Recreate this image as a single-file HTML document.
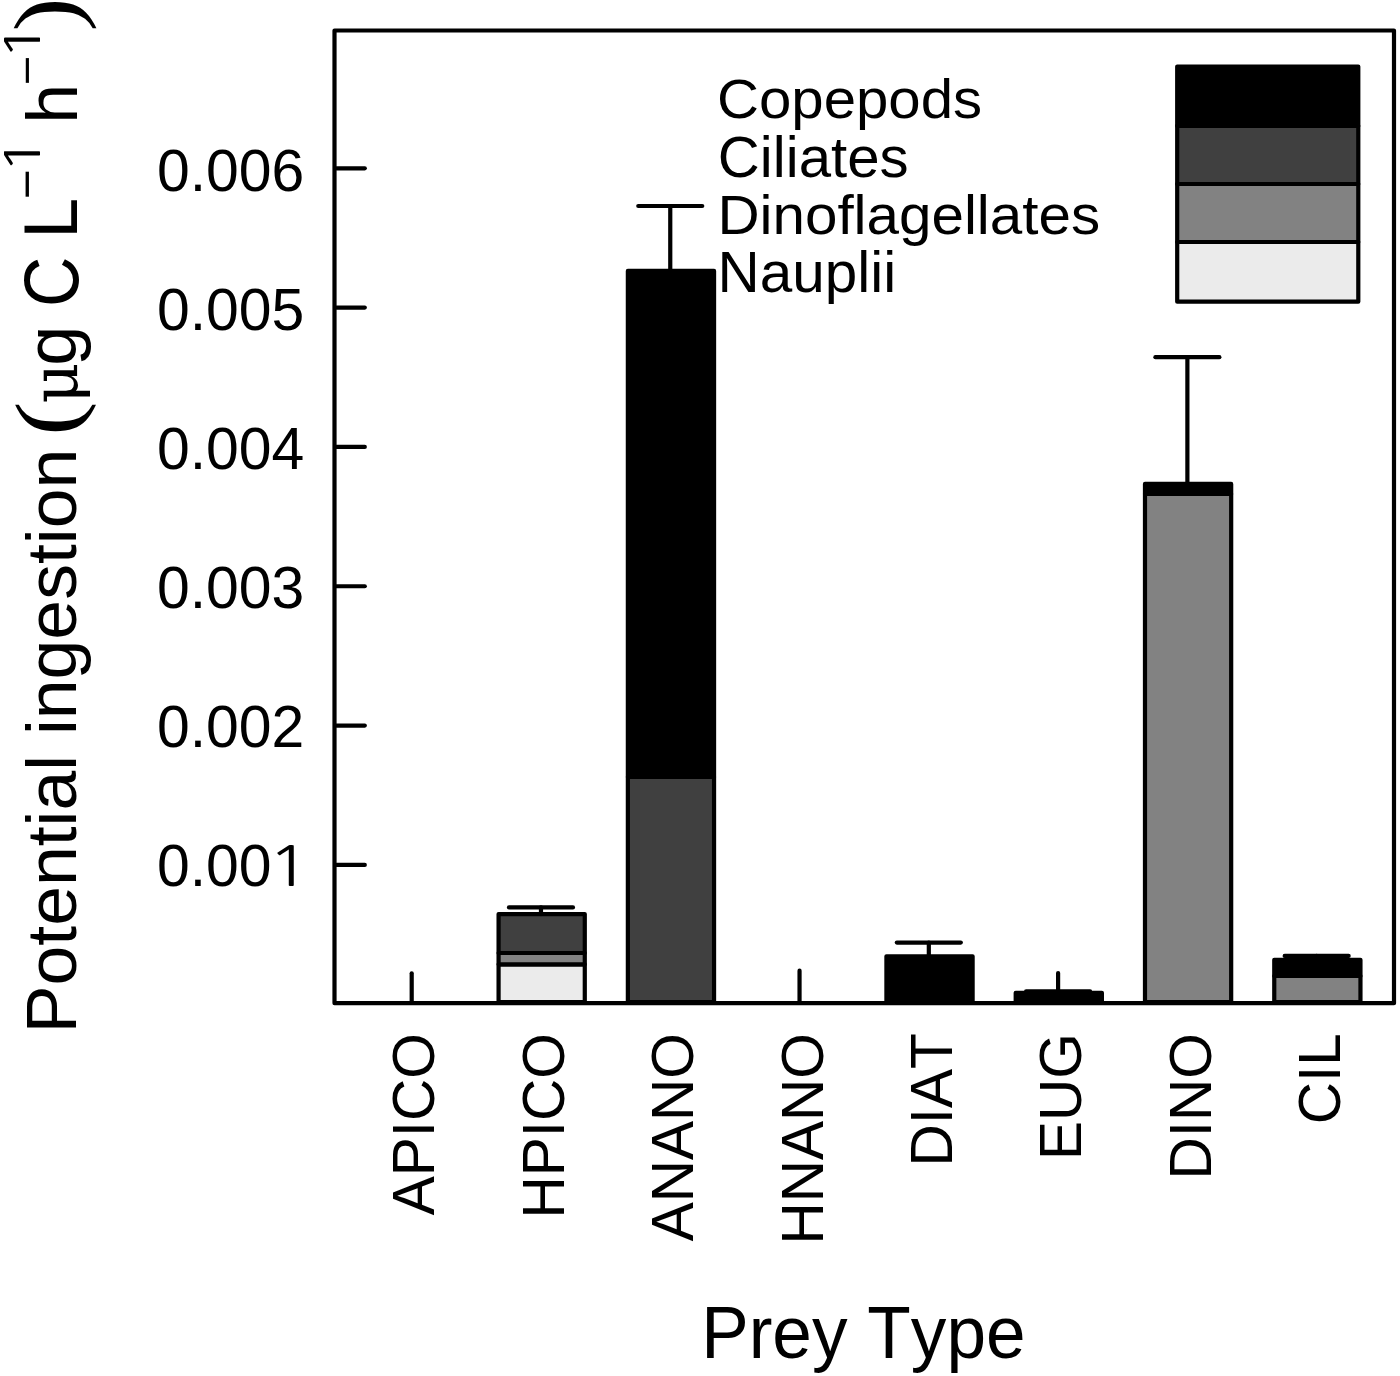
<!DOCTYPE html>
<html><head><meta charset="utf-8"><title>Potential ingestion by prey type</title>
<style>html,body{margin:0;padding:0;background:#fff}svg{display:block}</style></head>
<body>
<svg width="1400" height="1376" viewBox="0 0 1400 1376">
<rect x="0" y="0" width="1400" height="1376" fill="#fff"/>
<g stroke="#000" stroke-width="4.2" stroke-linejoin="round" stroke-linecap="round" fill="none">
<line x1="411.70" y1="1001.2" x2="411.70" y2="973.3"/>
<line x1="540.98" y1="1001.2" x2="540.98" y2="972"/>
<line x1="670.26" y1="1001.2" x2="670.26" y2="972"/>
<line x1="799.54" y1="1001.2" x2="799.54" y2="970.7"/>
<line x1="928.82" y1="1001.2" x2="928.82" y2="972"/>
<line x1="1058.10" y1="1001.2" x2="1058.10" y2="973.0"/>
<line x1="1187.38" y1="1001.2" x2="1187.38" y2="972"/>
<line x1="1316.66" y1="1001.2" x2="1316.66" y2="972"/>
<line x1="336.5" y1="864.90" x2="364.8" y2="864.90"/>
<line x1="336.5" y1="725.58" x2="364.8" y2="725.58"/>
<line x1="336.5" y1="586.26" x2="364.8" y2="586.26"/>
<line x1="336.5" y1="446.94" x2="364.8" y2="446.94"/>
<line x1="336.5" y1="307.62" x2="364.8" y2="307.62"/>
<line x1="336.5" y1="168.30" x2="364.8" y2="168.30"/>
<rect x="498.58" y="964.30" width="86.20" height="37.90" fill="#ebebeb"/>
<rect x="498.58" y="953.00" width="86.20" height="11.30" fill="#828282"/>
<rect x="498.58" y="914.10" width="86.20" height="38.90" fill="#404040"/>
<rect x="627.86" y="777.00" width="86.20" height="225.20" fill="#404040"/>
<rect x="627.86" y="270.90" width="86.20" height="506.10" fill="#000"/>
<rect x="886.42" y="956.30" width="86.20" height="45.90" fill="#000"/>
<rect x="1015.70" y="992.80" width="86.20" height="9.40" fill="#000"/>
<rect x="1144.98" y="494.00" width="86.20" height="508.20" fill="#828282"/>
<rect x="1144.98" y="483.90" width="86.20" height="10.10" fill="#000"/>
<rect x="1274.26" y="976.00" width="86.20" height="26.20" fill="#828282"/>
<rect x="1274.26" y="959.80" width="86.20" height="16.20" fill="#000"/>
<line x1="540.98" y1="914.10" x2="540.98" y2="907.40"/>
<line x1="508.98" y1="907.40" x2="572.98" y2="907.40"/>
<line x1="670.26" y1="270.90" x2="670.26" y2="206.00"/>
<line x1="638.26" y1="206.00" x2="702.26" y2="206.00"/>
<line x1="928.82" y1="956.30" x2="928.82" y2="942.60"/>
<line x1="896.82" y1="942.60" x2="960.82" y2="942.60"/>
<line x1="1058.10" y1="992.80" x2="1058.10" y2="991.40"/>
<line x1="1026.10" y1="991.40" x2="1090.10" y2="991.40"/>
<line x1="1187.38" y1="483.90" x2="1187.38" y2="357.20"/>
<line x1="1155.38" y1="357.20" x2="1219.38" y2="357.20"/>
<line x1="1316.66" y1="959.80" x2="1316.66" y2="955.90"/>
<line x1="1284.66" y1="955.90" x2="1348.66" y2="955.90"/>
<rect x="334.5" y="30.5" width="1059.5" height="972.7"/>
<rect x="1177.2" y="66.5" width="181.10" height="59.40" fill="#000"/>
<rect x="1177.2" y="125.9" width="181.10" height="58.10" fill="#404040"/>
<rect x="1177.2" y="184.0" width="181.10" height="58.00" fill="#828282"/>
<rect x="1177.2" y="242.0" width="181.10" height="59.70" fill="#ebebeb"/>
</g>
<g fill="#000" style="font-kerning:none" font-family="'Liberation Sans', Arial, Helvetica, sans-serif">
<text transform="translate(156.94,886.18) scale(1.0245,1.0346)" font-size="57.5">0.00<tspan font-family="NanumGothic, IPAGothic, 'Liberation Sans', sans-serif" font-size="53.86" textLength="42.93" lengthAdjust="spacingAndGlyphs" dx="-4.44" dy="-0.30">1</tspan></text>
<text transform="translate(156.94,747.15) scale(1.0245,1.0346)" font-size="57.5">0.002</text>
<text transform="translate(156.94,608.12) scale(1.0245,1.0346)" font-size="57.5">0.003</text>
<text transform="translate(156.94,469.09) scale(1.0245,1.0346)" font-size="57.5">0.004</text>
<text transform="translate(156.94,330.06) scale(1.0245,1.0346)" font-size="57.5">0.005</text>
<text transform="translate(156.94,191.03) scale(1.0245,1.0346)" font-size="57.5">0.006</text>
<text transform="translate(716.96,117.80) scale(1.0117,0.9664)" font-family="'Liberation Sans', Arial, Helvetica, sans-serif" font-size="57.5" >Copepods</text>
<text transform="translate(717.86,176.61) scale(1.0120,0.9857)" font-family="'Liberation Sans', Arial, Helvetica, sans-serif" font-size="57.5" >Ciliates</text>
<text transform="translate(717.43,233.57) scale(1.0148,0.9607)" font-family="'Liberation Sans', Arial, Helvetica, sans-serif" font-size="57.5" >Dinoflagellates</text>
<text transform="translate(717.42,292.43) scale(1.0167,0.9888)" font-family="'Liberation Sans', Arial, Helvetica, sans-serif" font-size="57.5" >Nauplii</text>
<text transform="translate(434.20,1033.24) rotate(-90) scale(1.018,1.04)" font-size="57.5" text-anchor="end">APICO</text>
<text transform="translate(563.65,1033.24) rotate(-90) scale(1.018,1.04)" font-size="57.5" text-anchor="end">HPICO</text>
<text transform="translate(693.10,1033.24) rotate(-90) scale(1.018,1.04)" font-size="57.5" text-anchor="end">ANANO</text>
<text transform="translate(822.55,1033.24) rotate(-90) scale(1.018,1.04)" font-size="57.5" text-anchor="end">HNANO</text>
<text transform="translate(952.00,1033.24) rotate(-90) scale(1.018,1.04)" font-size="57.5" text-anchor="end">DIAT</text>
<text transform="translate(1081.45,1033.24) rotate(-90) scale(1.018,1.04)" font-size="57.5" text-anchor="end">EUG</text>
<text transform="translate(1210.90,1033.24) rotate(-90) scale(1.018,1.04)" font-size="57.5" text-anchor="end">DINO</text>
<text transform="translate(1340.35,1033.24) rotate(-90) scale(1.018,1.04)" font-size="57.5" text-anchor="end">CIL</text>
<text transform="translate(701.17,1357.9) scale(0.9890,1.03)" font-size="72">Prey Type</text>
<text transform="translate(75.78,1033.18) rotate(-90) scale(0.9974,0.9881)" font-family="'Liberation Sans', Arial, Helvetica, sans-serif" font-size="71.7" style="font-kerning:none">Potential ingestion</text>
<text transform="translate(76.62,435.83) rotate(-90) scale(1.0816,0.9442)" font-family="'Liberation Serif', 'Times New Roman', serif" font-size="95" >(</text>
<text transform="translate(77.07,403.81) rotate(-90) scale(1.0027,1.0176)" font-family="'DejaVu Serif', 'Liberation Serif', serif" font-size="63" >μ</text>
<text transform="translate(75.64,365.72) rotate(-90) scale(1.0062,1.0038)" font-family="'Liberation Sans', Arial, Helvetica, sans-serif" font-size="71.7" >g</text>
<text transform="translate(77.55,306.90) rotate(-90) scale(0.9714,1.0931)" font-family="'Liberation Sans', Arial, Helvetica, sans-serif" font-size="71.7" >C</text>
<text transform="translate(76.50,238.77) rotate(-90) scale(1.0286,1.0673)" font-family="'Liberation Sans', Arial, Helvetica, sans-serif" font-size="71.7" >L</text>
<text transform="translate(42.94,199.06) rotate(-90) scale(1.0245,0.9429)" font-family="'Liberation Sans', Arial, Helvetica, sans-serif" font-size="50.2" >−</text>
<text transform="translate(40.30,174.27) rotate(-90) scale(1.2522,0.9760)" font-family="NanumGothic, IPAGothic, 'Liberation Sans', sans-serif" font-size="50" >1</text>
<text transform="translate(77.01,123.80) rotate(-90) scale(1.0000,1.0117)" font-family="'Liberation Sans', Arial, Helvetica, sans-serif" font-size="71.7" >h</text>
<text transform="translate(42.09,85.24) rotate(-90) scale(1.0163,0.8857)" font-family="'Liberation Sans', Arial, Helvetica, sans-serif" font-size="50.2" >−</text>
<text transform="translate(40.20,60.63) rotate(-90) scale(1.2609,0.9760)" font-family="NanumGothic, IPAGothic, 'Liberation Sans', sans-serif" font-size="50" >1</text>
<text transform="translate(76.90,31.53) rotate(-90) scale(1.0776,0.9500)" font-family="'Liberation Serif', 'Times New Roman', serif" font-size="95" >)</text>
</g>
</svg>
</body></html>
